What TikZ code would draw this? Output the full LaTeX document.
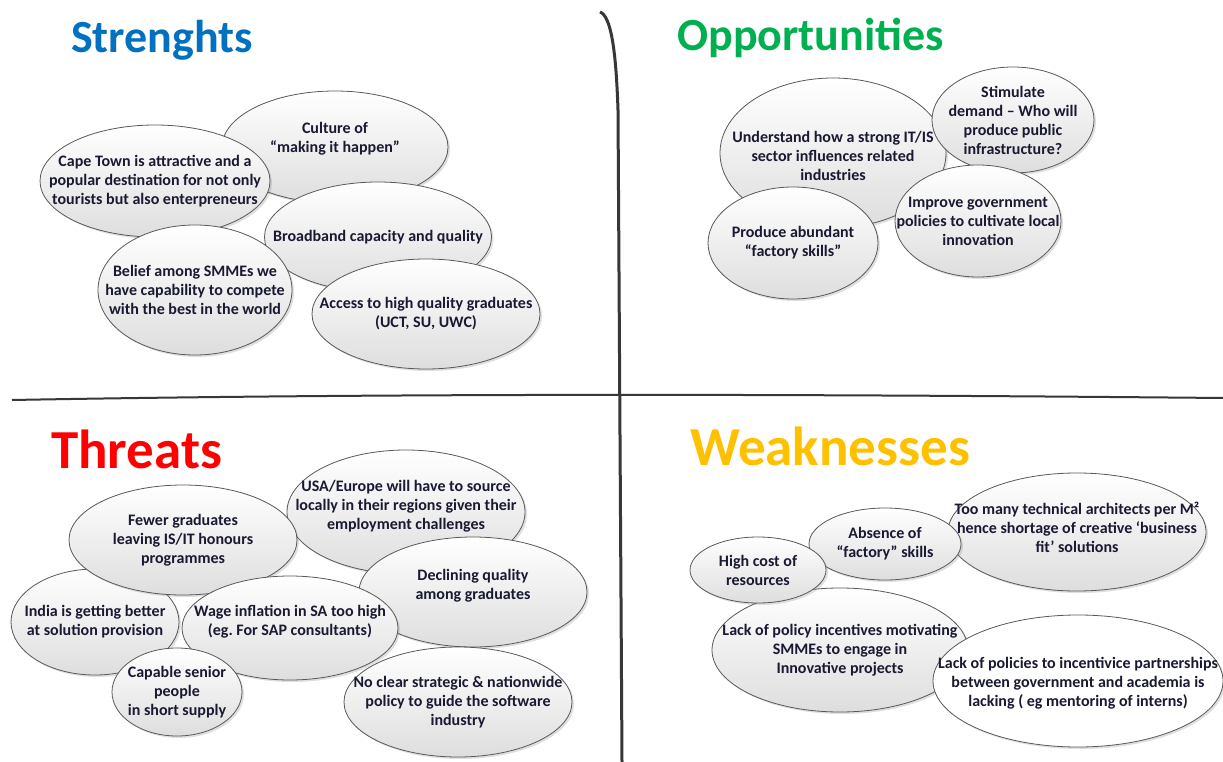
\documentclass[tikz,border=0pt]{standalone}
\usepackage{fontspec}
\setmainfont{Carlito}
\usepackage{xcolor}
\usepackage{tikz}
\usetikzlibrary{shapes.geometric,shadows}
\frenchspacing

\definecolor{strblue}{HTML}{0070C0}
\definecolor{oppgreen}{HTML}{00B050}
\definecolor{thrred}{HTML}{FF0000}
\definecolor{weakgold}{HTML}{FFC000}
\definecolor{bubbletext}{RGB}{25,25,50}
\definecolor{divider}{RGB}{55,55,55}

\tikzset{
	bubble/.style={ellipse, draw=black!65, line width=0.8pt, top color=white, bottom color=black!13,
		drop shadow={shadow xshift=2pt, shadow yshift=-2pt, opacity=0.25}},
	btext/.style={font=\bfseries\fontsize{16}{19}\selectfont, text=bubbletext, align=center, inner sep=0pt},
	heading/.style={font=\bfseries\fontsize{#1}{#1}\selectfont, anchor=base west, inner sep=0pt}
}

\begin{document}
\begin{tikzpicture}
	[x=1pt, y=-1pt]

	\useasboundingbox[fill=white] (0,0) rectangle (1223,762);

	% dividers
	\draw[divider, line width=3pt] (600,12) .. controls (611,16) and (616,50) .. (618,110) -- (622,762);
	\draw[divider, line width=2pt] (12,400) .. controls (400,393) and (800,394) .. (1223,398);

	% headings
	\node[heading=46, text=strblue] (strhead) at (71,53) {Strenghts};
	\node[heading=46, text=oppgreen] (opphead) at (677,51) {Opportunities};
	\node[heading=55, text=thrred] (thrhead) at (51,468) {Threats};
	\node[heading=55, text=weakgold] (weakhead) at (690,465) {Weaknesses};

	% strengths
	\node[bubble, minimum width=226pt, minimum height=112pt] (culture) at (335,147) {};
	\node[bubble, minimum width=227pt, minimum height=110pt] (broadband) at (378,237) {};
	\node[bubble, minimum width=230pt, minimum height=112pt] (capetown) at (155,181) {};
	\node[bubble, minimum width=194pt, minimum height=130pt] (belief) at (195,290) {};
	\node[bubble, minimum width=228pt, minimum height=110pt] (access) at (426,314) {};

	\node[btext, yshift=8pt] (culturetxt) at (culture) {Culture of\\“making it happen”};
	\node[btext] (broadbandtxt) at (broadband) {Broadband capacity and quality};
	\node[btext] (capetowntxt) at (capetown) {Cape Town is attractive and a\\popular destination for not only\\tourists but also enterpreneurs};
	\node[btext] (belieftxt) at (belief) {Belief among SMMEs we\\have capability to compete\\with the best in the world};
	\node[btext] (accesstxt) at (access) {Access to high quality graduates\\(UCT, SU, UWC)};

	% opportunities
	\node[bubble, minimum width=226pt, minimum height=150pt] (understand) at (833,153) {};
	\node[bubble, minimum width=162pt, minimum height=106pt] (stimulate) at (1013,120) {};
	\node[bubble, minimum width=170pt, minimum height=112pt] (produce) at (793,243) {};
	\node[bubble, minimum width=166pt, minimum height=112pt] (improve) at (978,221) {};

	\node[btext, yshift=-3pt] (understandtxt) at (understand) {Understand how a strong IT/IS\\sector influences related\\industries};
	\node[btext] (stimulatetxt) at (stimulate) {Stimulate\\demand – Who will\\produce public\\infrastructure?};
	\node[btext] (producetxt) at (produce) {Produce abundant\\“factory skills”};
	\node[btext] (improvetxt) at (improve) {Improve government\\policies to cultivate local\\innovation};

	% threats
	\node[bubble, minimum width=238pt, minimum height=124pt] (usa) at (406,512) {};
	\node[bubble, minimum width=168pt, minimum height=106pt] (india) at (95,622) {};
	\node[bubble, minimum width=228pt, minimum height=110pt] (fewer) at (183,540) {};
	\node[bubble, minimum width=228pt, minimum height=110pt] (declining) at (473,592) {};
	\node[bubble, minimum width=216pt, minimum height=104pt] (wage) at (290,628) {};
	\node[bubble, minimum width=130pt, minimum height=88pt] (capable) at (177,692) {};
	\node[bubble, minimum width=228pt, minimum height=110pt] (noclear) at (458,702) {};

	\node[btext, yshift=6pt] (usatxt) at (usa) {USA/Europe will have to source\\locally in their regions given their\\employment challenges};
	\node[btext] (indiatxt) at (india) {India is getting better\\at solution provision};
	\node[btext] (fewertxt) at (fewer) {Fewer graduates\\leaving IS/IT honours\\programmes};
	\node[btext, yshift=6pt] (decliningtxt) at (declining) {Declining quality\\among graduates};
	\node[btext, yshift=6pt] (wagetxt) at (wage) {Wage inflation in SA too high\\(eg. For SAP consultants)};
	\node[btext] (capabletxt) at (capable) {Capable senior\\people\\in short supply};
	\node[btext] (noclaertxt) at (noclear) {No clear strategic \& nationwide\\policy to guide the software\\industry};

	% weaknesses
	\node[bubble, minimum width=256pt, minimum height=124pt] (lackpolicy) at (840,650) {};
	\node[bubble, minimum width=258pt, minimum height=118pt] (toomany) at (1077,532) {};
	\node[bubble, minimum width=152pt, minimum height=72pt] (absence) at (885,544) {};
	\node[bubble, minimum width=136pt, minimum height=66pt] (highcost) at (758,570) {};
	\node[bubble, top color=white, bottom color=white, minimum width=290pt, minimum height=132pt] (lackpartner) at (1078,681) {};

	\node[btext] (lackpolicytxt) at (lackpolicy) {Lack of policy incentives motivating\\SMMEs to engage in\\Innovative projects};
	\node[btext, yshift=5pt] (toomanytxt) at (toomany) {Too many technical architects per M²\\hence shortage of creative ‘business\\fit’ solutions};
	\node[btext] (absencetxt) at (absence) {Absence of\\“factory” skills};
	\node[btext] (highcosttxt) at (highcost) {High cost of\\resources};
	\node[btext, yshift=-2pt] (lackpartnertxt) at (lackpartner) {Lack of policies to incentivice partnerships\\between government and academia is\\lacking ( eg mentoring of interns)};

\end{tikzpicture}
\end{document}
